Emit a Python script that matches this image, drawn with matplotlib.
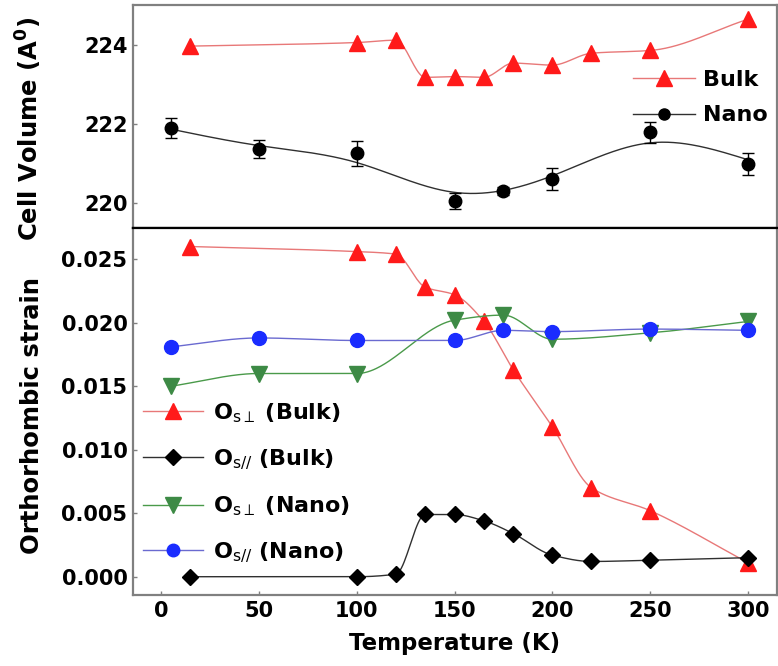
import numpy as np
import matplotlib
matplotlib.use("Agg")
import matplotlib.pyplot as plt

plt.rcParams['font.family'] = ['DejaVu Sans']

# temperatures (K)
t_bulk = [15, 100, 120, 135, 150, 165, 180, 200, 220, 250, 300]
t_nano = [5, 50, 100, 150, 175, 200, 250, 300]

# cell volume
vol_bulk = [223.97, 224.06, 224.12, 223.18, 223.20, 223.18, 223.54, 223.49, 223.79, 223.86, 224.65]
vol_nano = [221.89, 221.36, 221.26, 220.05, 220.31, 220.61, 221.79, 220.98]
vol_nano_err = [0.25, 0.23, 0.32, 0.20, 0.10, 0.27, 0.27, 0.28]

# orthorhombic strain
os_perp_bulk = [0.0260, 0.0256, 0.0254, 0.0228, 0.0222, 0.0201, 0.0163, 0.0118, 0.0070, 0.0052, 0.0011]
os_par_bulk = [0.0000, 0.0000, 0.0002, 0.0049, 0.0049, 0.0044, 0.0034, 0.0017, 0.0012, 0.0013, 0.0015]
os_perp_nano = [0.0150, 0.0160, 0.0160, 0.0202, 0.0206, 0.0187, 0.0192, 0.0201]
os_par_nano = [0.0181, 0.0188, 0.0186, 0.0186, 0.0194, 0.0193, 0.0195, 0.0194]


def pchip(x, y, n=400):
    # monotone cubic through the points
    x = np.asarray(x, float)
    y = np.asarray(y, float)
    h = np.diff(x)
    delta = np.diff(y) / h
    d = np.zeros_like(y)
    for k in range(1, len(x) - 1):
        if delta[k - 1] * delta[k] > 0:
            w1 = 2 * h[k] + h[k - 1]
            w2 = h[k] + 2 * h[k - 1]
            d[k] = (w1 + w2) / (w1 / delta[k - 1] + w2 / delta[k])
    d[0] = delta[0]
    d[-1] = delta[-1]
    xs = np.linspace(x[0], x[-1], n)
    idx = np.clip(np.searchsorted(x, xs) - 1, 0, len(x) - 2)
    hh = h[idx]
    s = (xs - x[idx]) / hh
    h00 = 2 * s**3 - 3 * s**2 + 1
    h10 = s**3 - 2 * s**2 + s
    h01 = -2 * s**3 + 3 * s**2
    h11 = s**3 - s**2
    ys = h00 * y[idx] + h10 * hh * d[idx] + h01 * y[idx + 1] + h11 * hh * d[idx + 1]
    return xs, ys


def smooth_fit(x, y, p, n=296):
    # penalised (smoothing-spline like) fit on a fine grid
    x = np.asarray(x, float)
    y = np.asarray(y, float)
    xs = np.linspace(x[0], x[-1], n)
    dx = xs[1] - xs[0]
    idx = np.round((x - x[0]) / dx).astype(int)
    w = np.zeros(n)
    b = np.zeros(n)
    w[idx] = 1.0
    b[idx] = y
    D = np.diff(np.eye(n), 2, axis=0)
    A = np.diag(w) + (p / dx**3) * D.T @ D
    return xs, np.linalg.solve(A, b)


def style(ax):
    for sp in ax.spines.values():
        sp.set_color('#808080')
        sp.set_linewidth(1.6)
    ax.tick_params(direction='in', length=3, width=1.0, color='#808080',
                   labelsize=15, labelcolor='black', pad=4)


def bold_ticks(ax):
    for lab in ax.get_xticklabels() + ax.get_yticklabels():
        lab.set_fontweight('bold')


def leg_label(sub, name):
    return r'$\mathbf{O}_{' + sub + r'}\ \mathbf{(' + name + r')}$'


fig = plt.figure(figsize=(7.78, 6.66), dpi=100)
ax1 = fig.add_axes([0.171, 0.6577, 0.8277, 0.3348])
ax2 = fig.add_axes([0.171, 0.1066, 0.8277, 0.5511], sharex=ax1)

red_line = '#e87878'
red_mk = '#ff1a1a'
blk_line = '#303030'
grn_line = '#4a9a4a'
grn_mk = '#3d8a45'
blu_line = '#6a6ad0'
blu_mk = '#1a2cff'

# top panel
xs, ys = pchip(t_bulk, vol_bulk)
ax1.plot(xs, ys, color=red_line, lw=1.0)
ax1.plot(t_bulk, vol_bulk, ls='none', marker='^', ms=11.5, color=red_mk)
ax1.plot([], [], color=red_line, lw=1.0, marker='^', ms=11.5, mfc=red_mk, mec=red_mk, label='Bulk')

xs, ys = smooth_fit(t_nano, vol_nano, 7000)
ax1.plot(xs, ys, color=blk_line, lw=1.0)
ax1.errorbar(t_nano, vol_nano, yerr=vol_nano_err, ls='none', marker='o', ms=9,
             color='black', ecolor='black', elinewidth=1.0, capsize=4)
ax1.plot([], [], color=blk_line, lw=1.0, marker='o', ms=8, mfc='black', mec='black', label='Nano')

ax1.set_ylim(219.37, 225.01)
ax1.set_yticks([220, 222, 224])
ax1.set_ylabel(r'Cell Volume (A$^{\mathregular{0}}$)', fontsize=17.5, fontweight='bold')
ax1.yaxis.set_label_coords(-0.138, 0.444)
ax1.tick_params(axis='x', bottom=False, labelbottom=False)
ax1.legend(loc='center left', bbox_to_anchor=(0.745, 0.585), frameon=False,
           prop={'size': 16, 'weight': 'bold'},
           numpoints=1, handlelength=2.8, labelspacing=0.7, handletextpad=0.36)
style(ax1)
ax1.spines['bottom'].set_color('black')

# bottom panel
xs, ys = pchip(t_bulk, os_perp_bulk)
ax2.plot(xs, ys, color=red_line, lw=1.0)
ax2.plot(t_bulk, os_perp_bulk, ls='none', marker='^', ms=11.5, color=red_mk)

xs, ys = pchip(t_bulk, os_par_bulk)
ax2.plot(xs, ys, color=blk_line, lw=1.0)
ax2.plot(t_bulk, os_par_bulk, ls='none', marker='D', ms=8.5, color='black')

xs, ys = pchip(t_nano, os_perp_nano)
ax2.plot(xs, ys, color=grn_line, lw=1.0)
ax2.plot(t_nano, os_perp_nano, ls='none', marker='v', ms=11.5, color=grn_mk)

xs, ys = pchip(t_nano, os_par_nano)
ax2.plot(xs, ys, color=blu_line, lw=1.0)
ax2.plot(t_nano, os_par_nano, ls='none', marker='o', ms=10, color=blu_mk)

ax2.plot([], [], color=red_line, lw=1.0, marker='^', ms=11, mfc=red_mk, mec=red_mk,
         label=leg_label(r'\mathregular{s}\perp', 'Bulk'))
ax2.plot([], [], color=blk_line, lw=1.0, marker='D', ms=8, mfc='black', mec='black',
         label=leg_label(r'\mathregular{s//}', 'Bulk'))
ax2.plot([], [], color=grn_line, lw=1.0, marker='v', ms=11, mfc=grn_mk, mec=grn_mk,
         label=leg_label(r'\mathregular{s}\perp', 'Nano'))
ax2.plot([], [], color=blu_line, lw=1.0, marker='o', ms=9, mfc=blu_mk, mec=blu_mk,
         label=leg_label(r'\mathregular{s//}', 'Nano'))

ax2.set_ylim(-0.00144, 0.02746)
ax2.set_yticks([0.0, 0.005, 0.010, 0.015, 0.020, 0.025])
ax2.set_yticklabels(['0.000', '0.005', '0.010', '0.015', '0.020', '0.025'])
ax2.set_xlim(-14.3, 314.8)
ax2.set_xticks([0, 50, 100, 150, 200, 250, 300])
ax2.set_xlabel('Temperature (K)', fontsize=16.5, fontweight='bold', labelpad=8)
ax2.set_ylabel('Orthorhombic strain', fontsize=17.5, fontweight='bold')
ax2.yaxis.set_label_coords(-0.138, 0.49)
ax2.legend(loc='center left', bbox_to_anchor=(-0.015, 0.305), frameon=False,
           prop={'size': 16, 'weight': 'normal'},
           numpoints=1, handlelength=2.7, labelspacing=1.02, handletextpad=0.45)
style(ax2)
ax2.spines['top'].set_color('black')

bold_ticks(ax1)
bold_ticks(ax2)

fig.savefig('out.png', dpi=100)
